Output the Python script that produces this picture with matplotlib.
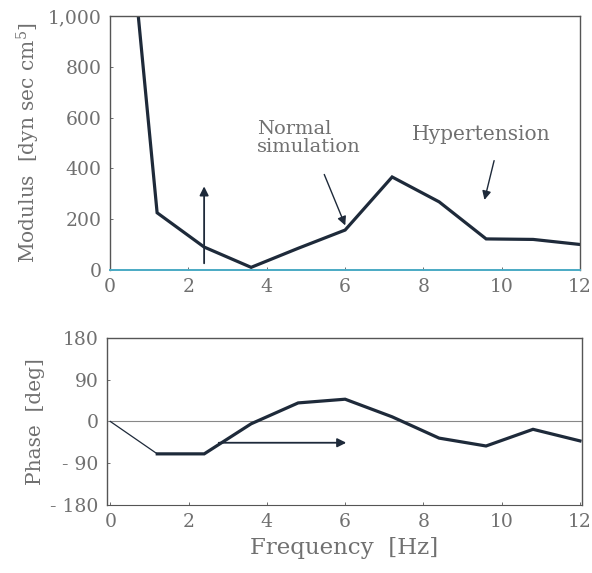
import matplotlib
matplotlib.use("Agg")
import matplotlib.pyplot as plt

plt.rcParams['font.family'] = ['DejaVu Serif']
plt.rcParams['mathtext.fontset'] = 'dejavuserif'

# Data
freq = [0.0, 1.2, 2.4, 3.6, 4.8, 6.0, 7.2, 8.4, 9.6, 10.8, 12.0]
modulus = [2160, 225, 90, 10, 85, 157, 366, 268, 122, 120, 100]
phase = [0, -70, -70, -5, 40, 48, 10, -36, -53, -17, -42]

xticks = [0, 2, 4, 6, 8, 10, 12]
mod_ticks = [0, 200, 400, 600, 800, 1000]
mod_ticklabels = ['0', '200', '400', '600', '800', '1,000']
ph_ticks = [180, 90, 0, -90, -180]
ph_ticklabels = ['180', '90', '0', '- 90', '- 180']

line_c = '#1e2a3a'
text_c = '#707070'
spine_c = '#555555'

fig = plt.figure(figsize=(5.92, 5.73), dpi=100)
ax1 = fig.add_axes([0.186, 0.529, 0.794, 0.443])
ax2 = fig.add_axes([0.181, 0.119, 0.802, 0.291])

# --- Modulus
ax1.plot(freq, modulus, color=line_c, lw=2.3, solid_joinstyle='miter', clip_on=True)
ax1.set_xlim(0, 12)
ax1.set_ylim(0, 1000)
ax1.set_xticks(xticks)
ax1.set_yticks(mod_ticks)
ax1.set_yticklabels(mod_ticklabels)
ax1.set_ylabel('Modulus  [dyn sec cm$^{5}$]', color=text_c, fontsize=14.5, labelpad=4)
ax1.spines['bottom'].set_color('#4aaac4')
ax1.spines['bottom'].set_linewidth(1.4)

ax1.annotate('', xy=(2.4, 340), xytext=(2.4, 15),
             arrowprops=dict(arrowstyle='-|>', color=line_c, lw=1.3, mutation_scale=13))
ax1.text(3.75, 520, 'Normal\nsimulation', color=text_c, fontsize=14,
         ha='left', va='center', linespacing=1.05)
ax1.annotate('', xy=(6.03, 165), xytext=(5.44, 386),
             arrowprops=dict(arrowstyle='-|>', color=line_c, lw=1.0, mutation_scale=13))
ax1.text(7.7, 535, 'Hypertension', color=text_c, fontsize=14.5, ha='left', va='center')
ax1.annotate('', xy=(9.54, 265), xytext=(9.82, 441),
             arrowprops=dict(arrowstyle='-|>', color=line_c, lw=1.0, mutation_scale=13))

# --- Phase
ax2.axhline(0, color='#888888', lw=0.8)
ax2.plot(freq[:2], phase[:2], color=line_c, lw=0.9)
ax2.plot(freq[1:], phase[1:], color=line_c, lw=2.3, solid_joinstyle='miter')
ax2.set_xlim(-0.08, 12.05)
ax2.set_ylim(-180, 180)
ax2.set_xticks(xticks)
ax2.set_yticks(ph_ticks)
ax2.set_yticklabels(ph_ticklabels)
ax2.set_ylabel('Phase  [deg]', color=text_c, fontsize=14.5, labelpad=4)
ax2.set_xlabel('Frequency  [Hz]', color=text_c, fontsize=16.5, labelpad=4)
ax2.annotate('', xy=(6.1, -46), xytext=(2.7, -46),
             arrowprops=dict(arrowstyle='-|>', color=line_c, lw=1.3, mutation_scale=13,
                             facecolor='white'))

for ax in (ax1, ax2):
    for s in ['left', 'top', 'right']:
        ax.spines[s].set_color(spine_c)
        ax.spines[s].set_linewidth(1.0)
    if ax is ax2:
        ax.spines['bottom'].set_color(spine_c)
    ax.tick_params(direction='in', length=2, width=0.6, colors=spine_c,
                   labelcolor=text_c, labelsize=13.5, pad=6)

fig.savefig('out.png', dpi=100, facecolor='white')
